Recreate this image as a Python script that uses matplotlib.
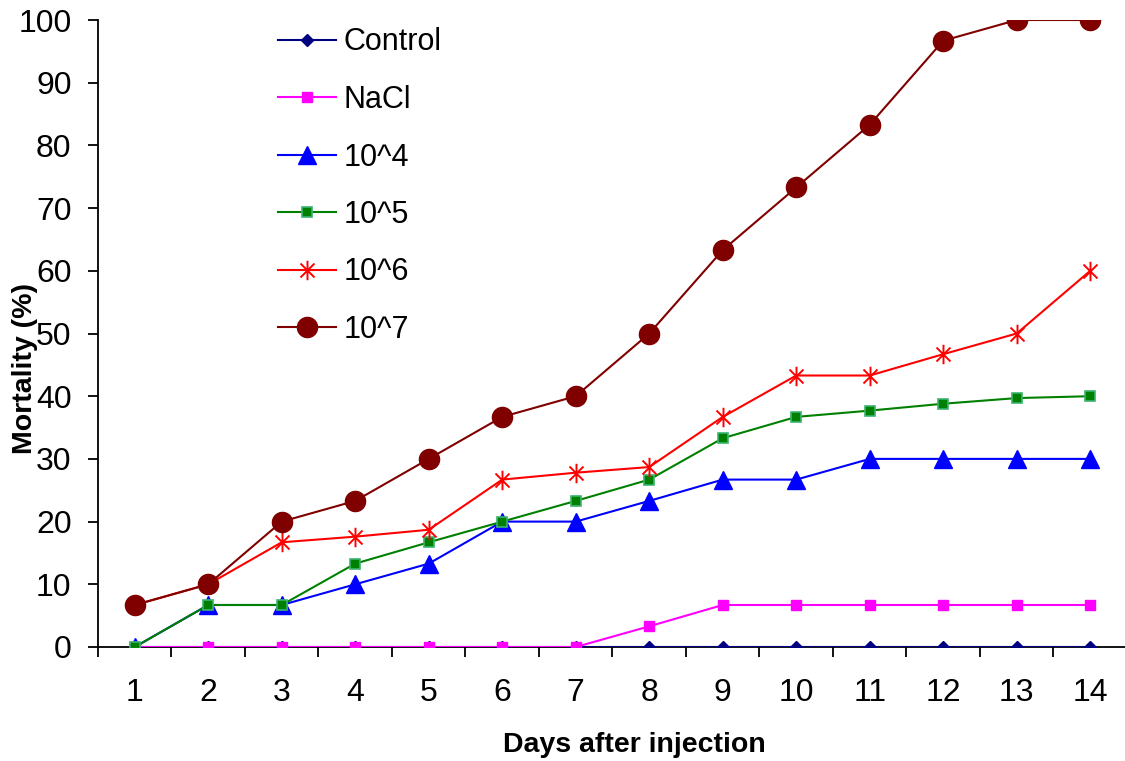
import matplotlib
matplotlib.use("Agg")
import matplotlib.pyplot as plt
from matplotlib.path import Path
import numpy as np

days = list(range(1, 15))
control = [0]*14
nacl = [0, 0, 0, 0, 0, 0, 0, 3.3, 6.7, 6.7, 6.7, 6.7, 6.7, 6.7]
d1e4 = [0, 6.7, 6.7, 10, 13.3, 20, 20, 23.3, 26.7, 26.7, 30, 30, 30, 30]
d1e5 = [0, 6.7, 6.7, 13.3, 16.7, 20, 23.3, 26.7, 33.3, 36.7, 37.7, 38.8, 39.7, 40]
d1e6 = [6.7, 10, 16.7, 17.6, 18.7, 26.7, 27.8, 28.7, 36.7, 43.3, 43.3, 46.7, 50, 60]
d1e7 = [6.7, 10, 20, 23.3, 30, 36.7, 40, 50, 63.3, 73.3, 83.3, 96.7, 100, 100]
labels = ["Control", "NaCl", "10^4", "10^5", "10^6", "10^7"]

plt.rcParams['font.family'] = ['Liberation Sans', 'DejaVu Sans']

fig = plt.figure(figsize=(11.25, 7.61), dpi=100)
ax = fig.add_axes([98/1125, 1-647/761, 1029/1125, 627/761])

star = Path([(0, -1), (0, 1), (-0.72, -0.72), (0.72, 0.72), (-0.72, 0.72), (0.72, -0.72)],
            [Path.MOVETO, Path.LINETO, Path.MOVETO, Path.LINETO, Path.MOVETO, Path.LINETO])

lw = 1.5
ax.plot(days, control, color='#000080', lw=lw, marker='D', ms=6.5, mfc='#000080', mec='#000080', label=labels[0])
ax.plot(days, nacl, color='#FF00FF', lw=lw, marker='s', ms=7.5, mfc='#FF00FF', mec='#FF00FF', label=labels[1])
ax.plot(days, d1e4, color='#0000FF', lw=lw, marker='^', ms=13, mfc='#0000FF', mec='#0000FF', label=labels[2])
ax.plot(days, d1e5, color='#008000', lw=lw, marker='s', ms=7, mfc='#008000', mec='#3CB371', mew=1.2, label=labels[3])
ax.plot(days, d1e6, color='#FF0000', lw=lw, marker=star, ms=14, mfc='none', mec='#FF0000', mew=1.4, label=labels[4])
ax.plot(days, d1e7, color='#800000', lw=lw, marker='o', ms=14.5, mfc='#800000', mec='#800000', label=labels[5])

ax.set_xlim(0.5, 14.5)
ax.set_ylim(0, 100)
ax.set_yticks(np.arange(0, 101, 10))
ax.set_xticks(np.arange(0.5, 15, 1))
ax.set_xticklabels([])
ax.set_xticks(days, minor=True)
ax.set_xticklabels([str(d) for d in days], minor=True)
ax.tick_params(axis='x', which='major', direction='out', length=7, width=1.3)
ax.tick_params(axis='x', which='minor', length=0, pad=22, labelsize=23)
ax.tick_params(axis='y', direction='out', length=7, width=1.3, pad=12, labelsize=23)

for s in ['top', 'right']:
    ax.spines[s].set_visible(False)
for s in ['left', 'bottom']:
    ax.spines[s].set_linewidth(1.3)
ax.spines['bottom'].set_zorder(0)

ax.set_ylabel("Mortality (%)", fontsize=20.5, fontweight='bold', va='center')
ax.yaxis.set_label_coords((25-98)/1029, (647-368)/627)
ax.set_xlabel("Days after injection", fontsize=20.5, fontweight='bold', va='center')
ax.xaxis.set_label_coords((634-98)/1029, -(745-647)/627)

leg = ax.legend(loc='upper left', bbox_to_anchor=(250/1125, 1.0), bbox_transform=fig.transFigure,
                frameon=False, fontsize=22, handlelength=1.9, labelspacing=0.9, handletextpad=0.25)

fig.savefig("out.png", dpi=100)
